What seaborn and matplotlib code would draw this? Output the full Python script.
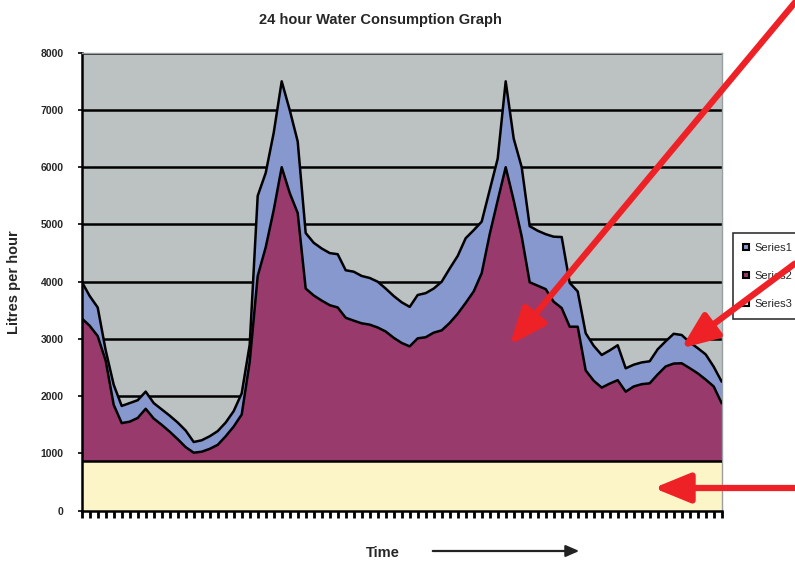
import matplotlib
matplotlib.use("Agg")
import matplotlib.pyplot as plt
from matplotlib.lines import Line2D
import numpy as np
import pandas as pd
import seaborn as sns

# top edge of each stacked layer, one value per time step (81 steps)
series1_top = [4000, 3750, 3550, 2800, 2200, 1830, 1880, 1930, 2080, 1880,
               1770, 1660, 1540, 1400, 1200, 1230, 1300, 1390, 1540, 1740,
               2050, 2900, 5500, 5900, 6600, 7500, 7000, 6450, 4850, 4680,
               4580, 4500, 4480, 4200, 4175, 4100, 4065, 4000, 3880, 3750,
               3640, 3560, 3768, 3800, 3880, 4000, 4230, 4450, 4760, 4900,
               5050, 5600, 6150, 7500, 6500, 6000, 4970, 4890, 4830, 4786,
               4780, 3980, 3830, 3100, 2880, 2720, 2800, 2890, 2487, 2550,
               2590, 2610, 2820, 2960, 3090, 3069, 2940, 2840, 2730, 2515,
               2253]
series2_top = [3360, 3230, 3050, 2620, 1850, 1530, 1555, 1620, 1780, 1610,
               1500, 1380, 1250, 1110, 1013, 1030, 1080, 1150, 1300, 1470,
               1680, 2600, 4100, 4600, 5250, 6000, 5550, 5200, 3880, 3760,
               3670, 3590, 3550, 3370, 3320, 3273, 3250, 3200, 3130, 3020,
               2930, 2870, 3011, 3030, 3110, 3150, 3280, 3440, 3630, 3830,
               4150, 4830, 5420, 6000, 5420, 4790, 3990, 3930, 3870, 3650,
               3540, 3214, 3214, 2450, 2270, 2150, 2220, 2280, 2079, 2170,
               2210, 2225, 2380, 2520, 2570, 2575, 2490, 2400, 2290, 2170,
               1876]
series3_level = [860] * 81
series_names = ["Series1", "Series2", "Series3"]
y_ticks = [0, 1000, 2000, 3000, 4000, 5000, 6000, 7000, 8000]

colors = {"Series1": "#8798cf", "Series2": "#983a6c", "Series3": "#fcf5c8"}
bg = "#bcc1c2"

sns.set_style("white")
plt.rcParams["font.family"] = ["Liberation Sans", "DejaVu Sans"]

df = pd.DataFrame({"step": np.arange(len(series1_top)),
                   "Series1": series1_top,
                   "Series2": series2_top,
                   "Series3": series3_level})

fig = plt.figure(figsize=(7.95, 5.62), dpi=100)
ax = fig.add_axes([81.7 / 795, 1 - 510.7 / 562, 640 / 795, 458 / 562])
ax.set_facecolor(bg)

ax.fill_between(df["step"], 0, df["Series1"], color=colors["Series1"], zorder=1, lw=0)
ax.fill_between(df["step"], 0, df["Series2"], color=colors["Series2"], zorder=1.1, lw=0)
ax.fill_between(df["step"], 0, df["Series3"], color=colors["Series3"], zorder=1.2, lw=0)
for name in series_names:
    sns.lineplot(data=df, x="step", y=name, ax=ax, color="black", lw=1.8, zorder=3)

ax.set_axisbelow(True)
ax.yaxis.grid(True, color="black", lw=1.8)
ax.set_xlim(0, len(series1_top) - 1)
ax.set_ylim(0, 8000)
ax.set_yticks(y_ticks)
ax.set_yticklabels([str(t) for t in y_ticks], fontsize=7.5, fontweight="bold",
                   fontstretch="condensed")
ax.set_xticks(df["step"])
ax.set_xticklabels([])
ax.tick_params(axis="x", bottom=True, direction="out", length=5, width=2,
               color="black")
ax.tick_params(axis="y", left=True, direction="out", length=3, width=1.2,
               color="black", pad=10)
ax.set_xlabel("")
ax.set_ylabel("Litres per hour", fontsize=10.5, fontweight="bold", labelpad=14)

for s in ["left", "bottom"]:
    ax.spines[s].set_color("black")
    ax.spines[s].set_linewidth(1.8)
for s in ["top", "right"]:
    ax.spines[s].set_color("#9a9fa2")
    ax.spines[s].set_linewidth(1)

fig.text(380 / 795, 1 - 20 / 562, "24 hour Water Consumption Graph",
         ha="center", va="center", fontsize=10.5, fontweight="bold")
fig.text(383 / 795, 1 - 553 / 562, "Time", ha="center", va="center",
         fontsize=10.5, fontweight="bold")
fig.add_artist(matplotlib.patches.FancyArrowPatch(
    (430 / 795, 1 - 551 / 562), (582 / 795, 1 - 551 / 562),
    transform=fig.transFigure, arrowstyle="-|>,head_length=8,head_width=3.5",
    color="#222222", lw=1.6, mutation_scale=1))

handles = [Line2D([], [], marker="s", ls="", markersize=5,
                  markerfacecolor=colors[n], markeredgecolor="black",
                  markeredgewidth=1.5) for n in series_names]
leg = fig.legend(handles, series_names, loc="upper left",
                 bbox_to_anchor=(733 / 795, 1 - 233 / 562),
                 frameon=True, fancybox=False, fontsize=8, labelspacing=1.6,
                 handlelength=0.6, handletextpad=0.4, borderpad=0.9,
                 borderaxespad=0)
leg.get_frame().set_edgecolor("black")
leg.get_frame().set_linewidth(1.2)

# red annotation arrows
red = "#ee2226"
arrows = [((797, 0), (508, 347)), ((797, 262), (679, 350)), ((797, 488), (651, 488))]
for start, end in arrows:
    fig.add_artist(matplotlib.patches.FancyArrowPatch(
        (start[0] / 795, 1 - start[1] / 562), (end[0] / 795, 1 - end[1] / 562),
        transform=fig.transFigure,
        arrowstyle="-|>,head_length=22,head_width=9",
        color=red, lw=4.5, mutation_scale=1, zorder=10))

fig.savefig("out.png", dpi=100)
